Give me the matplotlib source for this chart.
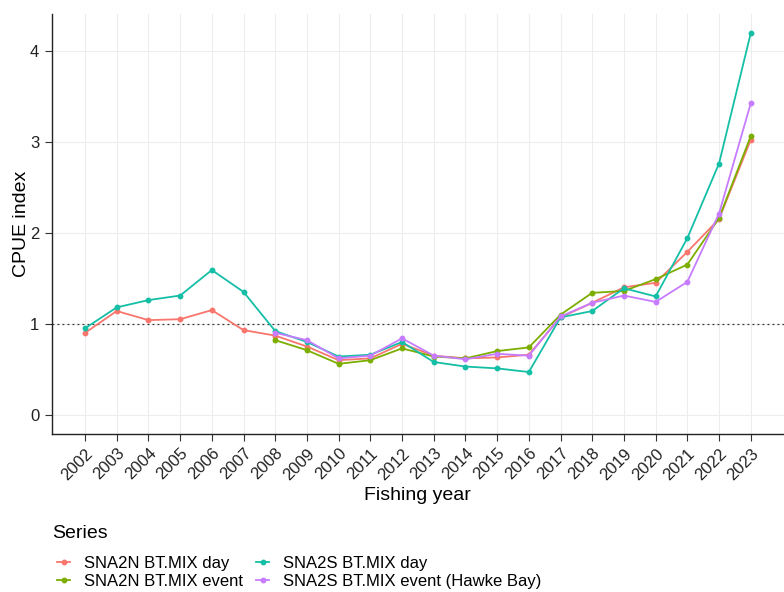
import numpy as np
import matplotlib.pyplot as plt
from matplotlib.lines import Line2D

plt.rcParams['font.family'] = ['Liberation Sans', 'DejaVu Sans']

# ------------------------------------------------------------
# CPUE indices by fishing year
# ------------------------------------------------------------
years = list(range(2002, 2024))

sna2n_day = [0.90, 1.14, 1.04, 1.05, 1.15, 0.93, 0.87, 0.75, 0.60, 0.62, 0.78,
             0.65, 0.62, 0.63, 0.66, 1.07, 1.23, 1.40, 1.45, 1.79, 2.15, 3.02]
sna2s_day = [0.95, 1.18, 1.26, 1.31, 1.59, 1.35, 0.92, 0.80, 0.64, 0.66, 0.80,
             0.58, 0.53, 0.51, 0.47, 1.07, 1.14, 1.39, 1.30, 1.94, 2.76, 4.19]
# event series start in 2008
years_evt = list(range(2008, 2024))
sna2n_event = [0.82, 0.71, 0.56, 0.60, 0.73, 0.64, 0.62, 0.70, 0.74, 1.10,
               1.34, 1.36, 1.49, 1.65, 2.16, 3.06]
sna2s_event_hb = [0.90, 0.82, 0.62, 0.65, 0.84, 0.65, 0.61, 0.67, 0.65, 1.08,
                  1.23, 1.31, 1.24, 1.46, 2.21, 3.42]

series_names = ['SNA2N BT.MIX day', 'SNA2N BT.MIX event',
                'SNA2S BT.MIX day', 'SNA2S BT.MIX event (Hawke Bay)']
series_cols = ['#F8766D', '#7CAE00', '#14BFA6', '#C77CFF']

W, H = 784, 592
fig = plt.figure(figsize=(W / 100, H / 100), dpi=100)
ax = fig.add_axes([0.066, 0.267, 0.934, 0.709])

ax.axhline(1, color='#333333', lw=0.9, ls=(0, (1.5, 2.5)), zorder=1)

plot_data = [(years, sna2n_day), (years_evt, sna2n_event),
             (years, sna2s_day), (years_evt, sna2s_event_hb)]
for (xx, yy), c in zip(plot_data, series_cols):
    ax.plot(xx, yy, color=c, lw=1.3, marker='o', ms=3.2, zorder=3)

ax.set_xlim(2000.95, 2024.05)
ax.set_ylim(-0.21, 4.40)
ax.set_xticks(years)
ax.set_xticklabels([str(y) for y in years], rotation=45, ha='right',
                   rotation_mode='anchor', fontsize=12, color='#222222')
ax.set_yticks([0, 1, 2, 3, 4])
ax.tick_params(axis='y', labelsize=12, labelcolor='#222222', pad=4)
ax.tick_params(length=5, width=0.8, color='#333333')

ax.grid(True, color='#EDEDED', lw=0.8, zorder=0)
ax.set_axisbelow(True)
for s in ['top', 'right']:
    ax.spines[s].set_visible(False)
for s in ['left', 'bottom']:
    ax.spines[s].set_linewidth(1.0)
    ax.spines[s].set_color('#222222')

ax.set_xlabel('Fishing year', fontsize=14, labelpad=3)
ax.set_ylabel('CPUE index', fontsize=14, labelpad=0)

# legend: title drawn separately so the gap above the keys can be set
fig.text(52 / W, 1 - 534 / H, 'Series', fontsize=14, va='center', ha='left')
handles = [Line2D([0], [0], color=c, lw=1.3, marker='o', ms=3.2)
           for c in series_cols]
fig.legend(handles, series_names, ncol=2,
           loc='upper left', bbox_to_anchor=(57 / W, 1 - 556 / H),
           frameon=False, fontsize=12, borderpad=0, borderaxespad=0,
           handlelength=0.8, handletextpad=0.8, columnspacing=0.8,
           labelspacing=0.2)

fig.savefig('out.png', dpi=100)
